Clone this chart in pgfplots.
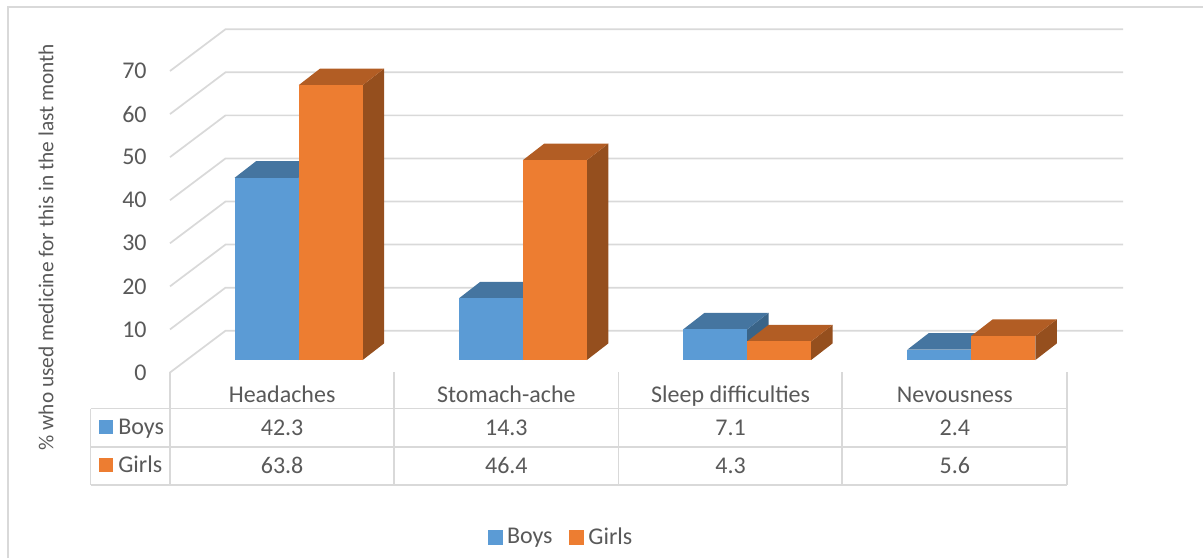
\documentclass[border=0pt]{standalone}
\usepackage{fontspec}
\usepackage{pgfplots}
\pgfplotsset{compat=1.18}
\setmainfont{Carlito}

\definecolor{gridgray}{HTML}{D9D9D9}
\definecolor{txt}{HTML}{595959}
\definecolor{boysfront}{HTML}{5B9BD5}
\definecolor{boystop}{HTML}{4575A0}
\definecolor{boysside}{HTML}{3A6488}
\definecolor{girlsfront}{HTML}{ED7D31}
\definecolor{girlstop}{HTML}{B25D24}
\definecolor{girlsside}{HTML}{954F1E}

% bar footprint in axis units: width, depth offset, lifted floor
\def\bw{0.2855}
\def\dx{0.0955}
\def\dy{3.85}
\def\base{2.9}

% #1 left edge, #2 value, #3 series colour prefix
\newcommand{\barbox}[3]{%
  \pgfmathsetmacro\xa{#1}%
  \pgfmathsetmacro\xb{#1+\bw}%
  \pgfmathsetmacro\xc{#1+\bw+\dx}%
  \pgfmathsetmacro\xd{#1+\dx}%
  \pgfmathsetmacro\ya{\base}%
  \pgfmathsetmacro\yb{\base+#2}%
  \pgfmathsetmacro\yc{\base+#2+\dy}%
  \pgfmathsetmacro\ye{\base+\dy}%
  \addplot[fill=#3side,draw=none,forget plot] coordinates {(\xb,\ya)(\xc,\ye)(\xc,\yc)(\xb,\yb)} --cycle;
  \addplot[fill=#3top,draw=none,forget plot] coordinates {(\xa,\yb)(\xb,\yb)(\xc,\yc)(\xd,\yc)} --cycle;
  \addplot[fill=#3front,draw=none,forget plot] coordinates {(\xa,\ya)(\xb,\ya)(\xb,\yb)(\xa,\yb)} --cycle;
}
% gridline running up the side wall and along the back
\newcommand{\wallgrid}[1]{%
  \pgfmathsetmacro\yf{#1}%
  \pgfmathsetmacro\yg{#1+9.7}%
  \addplot[gridgray,line width=1.3pt,forget plot] coordinates {(0,\yf)(0.2475,\yg)(4.2497,\yg)};
}

\begin{document}
\begin{tikzpicture}[x=0.75pt,y=0.75pt]
\path[use as bounding box] (0,0) rectangle (1203,558);
\draw[gridgray,line width=0.9pt] (8,0) -- (8,551) -- (1203,551);

\begin{axis}[
  at={(127.5pt,139.125pt)},anchor=south west,
  scale only axis,width=672.75pt,height=226.125pt,
  xmin=0,xmax=4,ymin=0,ymax=70,clip=false,
  axis line style={draw=none},
  major tick length=0pt,tick style={draw=none},
  xtick={0.5,1.5,2.5,3.5},
  xticklabels={Headaches,Stomach-ache,Sleep difficulties,Nevousness},
  ytick={0,10,...,70},
  tick pos=left,
  /pgf/number format/assume math mode=true,
  tick label style={font=\fontsize{18}{22}\selectfont,text=txt},
  x tick label style={anchor=base,yshift=-22.7pt},
  y tick label style={anchor=east,xshift=-14pt},
  ylabel={\% who used medicine for this in the last month},
  every axis y label/.style={at={(axis cs:-0.553,29.1)},rotate=90,anchor=center,
    font=\fontsize{16}{20}\selectfont,text=txt},
  legend style={at={(axis cs:1.7455,-38.2)},anchor=center,draw=none,fill=none,
    font=\fontsize{18}{22}\selectfont,text=txt,legend columns=2,
    /tikz/every even column/.append style={column sep=10.5pt},
    inner sep=0pt},
]
\wallgrid{0}\wallgrid{10}\wallgrid{20}\wallgrid{30}
\wallgrid{40}\wallgrid{50}\wallgrid{60}\wallgrid{70}

\barbox{0.288}{42.3}{boys}
\barbox{0.5735}{63.8}{girls}
\barbox{1.288}{14.3}{boys}
\barbox{1.5735}{46.4}{girls}
\barbox{2.288}{7.1}{boys}
\barbox{2.5735}{4.3}{girls}
\barbox{3.288}{2.4}{boys}
\barbox{3.5735}{5.6}{girls}

\addlegendimage{legend image code/.code={\fill[boysfront] (0pt,-5.25pt) rectangle (10.5pt,5.25pt);}}
\addlegendentry{\hspace{1.5pt}Boys}
\addlegendimage{legend image code/.code={\fill[girlsfront] (0pt,-5.25pt) rectangle (10.5pt,5.25pt);}}
\addlegendentry{\hspace{1.5pt}Girls}

% data table under the plot
\foreach \c/\b/\g in {0.5/42.3/63.8,1.5/14.3/46.4,2.5/7.1/4.3,3.5/2.4/5.6}{
  \edef\tmp{\noexpand\node[font=\noexpand\fontsize{18}{22}\noexpand\selectfont,text=txt,anchor=base] at (axis cs:\c,-14.6) {\b};
  \noexpand\node[font=\noexpand\fontsize{18}{22}\noexpand\selectfont,text=txt,anchor=base] at (axis cs:\c,-23.5) {\g};}
  \tmp
}
\end{axis}

\begin{scope}[gridgray,line width=1.3pt]
  \foreach \x in {170,394,618.5,842,1067} \draw (\x,186) -- (\x,73);
  \draw (90.5,149.5) -- (90.5,73);
  \draw (90.5,149.5) -- (1067,149.5);
  \draw (90.5,111) -- (1067,111);
  \draw (90.5,73) -- (1067,73);
\end{scope}
\fill[boysfront] (99,124) rectangle (113,138);
\fill[girlsfront] (99,86) rectangle (113,100);
\node[font=\fontsize{18}{22}\selectfont,text=txt,anchor=base west,inner sep=0pt] at (118,124) {Boys};
\node[font=\fontsize{18}{22}\selectfont,text=txt,anchor=base west,inner sep=0pt] at (118,86) {Girls};
\end{tikzpicture}
\end{document}
